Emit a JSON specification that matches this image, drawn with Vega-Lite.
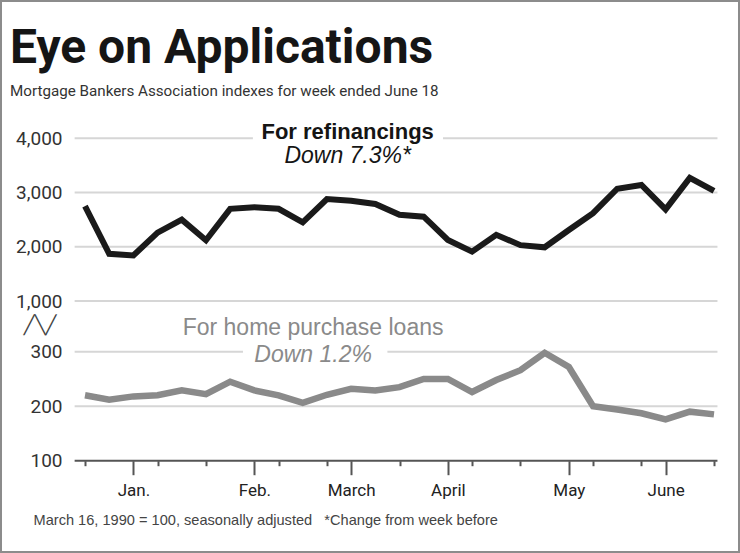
{
  "$schema": "https://vega.github.io/schema/vega-lite/v6.json",
  "width": 740,
  "height": 553,
  "autosize": {"type": "none"},
  "padding": 0,
  "background": "white",
  "config": {
    "view": {"stroke": "#8c8c8c", "strokeWidth": 4},
    "font": "Roboto",
    "axis": {"labelOverlap": false, "labelFlush": false, "labelBound": false}
  },
  "title": {
    "text": "Eye on Applications",
    "subtitle": "Mortgage Bankers Association indexes for week ended June 18",
    "anchor": "start",
    "frame": "group",
    "font": "Roboto",
    "fontSize": 48,
    "fontWeight": "bold",
    "color": "#151515",
    "subtitleFont": "Roboto",
    "subtitleFontSize": 15.2,
    "subtitleColor": "#333333",
    "subtitlePadding": 11,
    "offset": -99,
    "dx": 10
  },
  "datasets": {
    "mba": [
      {"week": "1992-12-18", "refinancing": 2750, "purchase": 220},
      {"week": "1992-12-25", "refinancing": 1870, "purchase": 212},
      {"week": "1993-01-01", "refinancing": 1840, "purchase": 218},
      {"week": "1993-01-08", "refinancing": 2260, "purchase": 220},
      {"week": "1993-01-15", "refinancing": 2500, "purchase": 229},
      {"week": "1993-01-22", "refinancing": 2120, "purchase": 222},
      {"week": "1993-01-29", "refinancing": 2700, "purchase": 245},
      {"week": "1993-02-05", "refinancing": 2730, "purchase": 229},
      {"week": "1993-02-12", "refinancing": 2700, "purchase": 220},
      {"week": "1993-02-19", "refinancing": 2450, "purchase": 206},
      {"week": "1993-02-26", "refinancing": 2880, "purchase": 221},
      {"week": "1993-03-05", "refinancing": 2850, "purchase": 232},
      {"week": "1993-03-12", "refinancing": 2790, "purchase": 229},
      {"week": "1993-03-19", "refinancing": 2590, "purchase": 235},
      {"week": "1993-03-26", "refinancing": 2555, "purchase": 250},
      {"week": "1993-04-02", "refinancing": 2125, "purchase": 250},
      {"week": "1993-04-09", "refinancing": 1910, "purchase": 226},
      {"week": "1993-04-16", "refinancing": 2220, "purchase": 248},
      {"week": "1993-04-23", "refinancing": 2030, "purchase": 266},
      {"week": "1993-04-30", "refinancing": 1990, "purchase": 298},
      {"week": "1993-05-07", "refinancing": 2310, "purchase": 272},
      {"week": "1993-05-14", "refinancing": 2620, "purchase": 200},
      {"week": "1993-05-21", "refinancing": 3070, "purchase": 194},
      {"week": "1993-05-28", "refinancing": 3140, "purchase": 187},
      {"week": "1993-06-04", "refinancing": 2690, "purchase": 176},
      {"week": "1993-06-11", "refinancing": 3270, "purchase": 190},
      {"week": "1993-06-18", "refinancing": 3030, "purchase": 185}
    ]
  },
  "data": {"name": "mba"},
  "layer": [
    {
      "layer": [
        {
          "data": {"values": [{"grid": 1000}, {"grid": 2000}, {"grid": 3000}]},
          "mark": {"type": "rule", "color": "#d6d6d6", "strokeWidth": 2},
          "encoding": {
            "x": {"datum": {"year": 1992, "month": 12, "date": 15, "utc": true}, "type": "temporal"},
            "x2": {"datum": {"year": 1993, "month": 6, "date": 19, "utc": true}},
            "y": {"field": "grid", "type": "quantitative"}
          }
        },
        {
          "data": {"values": [{}]},
          "mark": {"type": "rule", "color": "#d6d6d6", "strokeWidth": 2},
          "encoding": {
            "x": {"datum": {"year": 1992, "month": 12, "date": 15, "utc": true}, "type": "temporal"},
            "x2": {"datum": {"year": 1993, "month": 2, "date": 4, "hours": 14, "utc": true}},
            "y": {"datum": 4000, "type": "quantitative"}
          }
        },
        {
          "data": {"values": [{}]},
          "mark": {"type": "rule", "color": "#d6d6d6", "strokeWidth": 2},
          "encoding": {
            "x": {"datum": {"year": 1993, "month": 3, "date": 31, "hours": 14, "utc": true}, "type": "temporal"},
            "x2": {"datum": {"year": 1993, "month": 6, "date": 19, "utc": true}},
            "y": {"datum": 4000, "type": "quantitative"}
          }
        },
        {
          "mark": {"type": "line", "color": "#1a1a1a", "strokeWidth": 6, "strokeJoin": "miter"},
          "encoding": {
            "x": {
              "field": "week",
              "type": "temporal",
              "scale": {
                "type": "utc",
                "domain": [
                  {"year": 1992, "month": 12, "date": 18, "utc": true},
                  {"year": 1993, "month": 6, "date": 18, "utc": true}
                ],
                "range": [85, 714]
              },
              "axis": {
                "orient": "bottom",
                "offset": -92.3,
                "values": [
                  {"year": 1993, "month": 1, "date": 1, "utc": true},
                  {"year": 1993, "month": 2, "date": 5, "utc": true},
                  {"year": 1993, "month": 3, "date": 5, "utc": true},
                  {"year": 1993, "month": 4, "date": 2, "utc": true},
                  {"year": 1993, "month": 5, "date": 7, "utc": true},
                  {"year": 1993, "month": 6, "date": 4, "utc": true}
                ],
                "format": "%B",
                "labelExpr": "datum.label == 'January' ? 'Jan.' : datum.label == 'February' ? 'Feb.' : datum.label",
                "domain": false,
                "grid": false,
                "tickColor": "#555555",
                "tickWidth": 2,
                "tickSize": 14,
                "labelFont": "Roboto",
                "labelFontSize": 17,
                "labelColor": "#222222",
                "labelPadding": 8,
                "labelOverlap": false,
                "labelFlush": false,
                "labelBound": false,
                "title": "March 16, 1990 = 100, seasonally adjusted\u00a0\u00a0\u00a0*Change from week before",
                "titleFont": "Liberation Sans",
                "titleFontSize": 14.6,
                "titleFontWeight": "normal",
                "titleColor": "#444444",
                "titleAnchor": "start",
                "titleAlign": "left",
                "titleBaseline": "middle",
                "titleX": 33,
                "titleY": 60
              }
            },
            "y": {
              "field": "refinancing",
              "type": "quantitative",
              "scale": {"domain": [1000, 4000], "range": [301, 138.3], "zero": false, "nice": false},
              "axis": {
                "orient": "left",
                "offset": -77,
                "values": [1000, 2000, 3000, 4000],
                "format": ",.0f",
                "grid": false,
                "domain": false,
                "ticks": false,
                "tickSize": 0,
                "labelPadding": 15,
                "labelFont": "Roboto",
                "labelFontSize": 19,
                "labelColor": "#333333",
                "title": null
              }
            }
          }
        },
        {
          "data": {"values": [{}]},
          "mark": {"type": "text", "text": "For refinancings", "font": "Liberation Sans", "fontSize": 22, "fontWeight": "bold", "color": "#151515", "align": "center", "baseline": "alphabetic"},
          "encoding": {
            "x": {"datum": {"year": 1993, "month": 3, "date": 4, "utc": true}, "type": "temporal"},
            "y": {"datum": 3987, "type": "quantitative"}
          }
        },
        {
          "data": {"values": [{}]},
          "mark": {"type": "text", "text": "Down 7.3%*", "font": "Liberation Sans", "fontSize": 23, "fontStyle": "italic", "color": "#151515", "align": "center", "baseline": "alphabetic"},
          "encoding": {
            "x": {"datum": {"year": 1993, "month": 3, "date": 4, "utc": true}, "type": "temporal"},
            "y": {"datum": 3545, "type": "quantitative"}
          }
        },
        {
          "data": {"values": [{}]},
          "mark": {"type": "text", "text": "╱╲╱", "font": "DejaVu Sans", "fontSize": 18, "color": "#444444", "align": "center", "baseline": "middle"},
          "encoding": {
            "x": {"datum": {"year": 1992, "month": 12, "date": 5, "utc": true}, "type": "temporal"},
            "y": {"datum": 539, "type": "quantitative"}
          }
        }
      ]
    },
    {
      "layer": [
        {
          "data": {"values": [{"grid": 200}]},
          "mark": {"type": "rule", "color": "#d6d6d6", "strokeWidth": 2},
          "encoding": {
            "x": {"datum": {"year": 1992, "month": 12, "date": 15, "utc": true}, "type": "temporal"},
            "x2": {"datum": {"year": 1993, "month": 6, "date": 19, "utc": true}},
            "y": {"field": "grid", "type": "quantitative"}
          }
        },
        {
          "data": {"values": [{}]},
          "mark": {"type": "rule", "color": "#d6d6d6", "strokeWidth": 2},
          "encoding": {
            "x": {"datum": {"year": 1992, "month": 12, "date": 15, "utc": true}, "type": "temporal"},
            "x2": {"datum": {"year": 1993, "month": 2, "date": 1, "hours": 17, "utc": true}},
            "y": {"datum": 300, "type": "quantitative"}
          }
        },
        {
          "data": {"values": [{}]},
          "mark": {"type": "rule", "color": "#d6d6d6", "strokeWidth": 2},
          "encoding": {
            "x": {"datum": {"year": 1993, "month": 3, "date": 15, "hours": 12, "utc": true}, "type": "temporal"},
            "x2": {"datum": {"year": 1993, "month": 6, "date": 19, "utc": true}},
            "y": {"datum": 300, "type": "quantitative"}
          }
        },
        {
          "data": {"values": [{}]},
          "mark": {"type": "rule", "color": "#555555", "strokeWidth": 2},
          "encoding": {
            "x": {"datum": {"year": 1992, "month": 12, "date": 15, "utc": true}, "type": "temporal"},
            "x2": {"datum": {"year": 1993, "month": 6, "date": 19, "utc": true}},
            "y": {"datum": 100, "type": "quantitative"}
          }
        },
        {
          "mark": {"type": "line", "color": "#8a8a8a", "strokeWidth": 6.5, "strokeJoin": "miter"},
          "encoding": {
            "x": {
              "field": "week",
              "type": "temporal",
              "axis": {
                "orient": "bottom",
                "offset": -92.3,
                "values": [
                  {"year": 1992, "month": 12, "date": 18, "utc": true},
                  {"year": 1992, "month": 12, "date": 25, "utc": true},
                  {"year": 1993, "month": 1, "date": 8, "utc": true},
                  {"year": 1993, "month": 1, "date": 15, "utc": true},
                  {"year": 1993, "month": 1, "date": 22, "utc": true},
                  {"year": 1993, "month": 1, "date": 29, "utc": true},
                  {"year": 1993, "month": 2, "date": 12, "utc": true},
                  {"year": 1993, "month": 2, "date": 19, "utc": true},
                  {"year": 1993, "month": 2, "date": 26, "utc": true},
                  {"year": 1993, "month": 3, "date": 12, "utc": true},
                  {"year": 1993, "month": 3, "date": 19, "utc": true},
                  {"year": 1993, "month": 3, "date": 26, "utc": true},
                  {"year": 1993, "month": 4, "date": 9, "utc": true},
                  {"year": 1993, "month": 4, "date": 16, "utc": true},
                  {"year": 1993, "month": 4, "date": 23, "utc": true},
                  {"year": 1993, "month": 4, "date": 30, "utc": true},
                  {"year": 1993, "month": 5, "date": 14, "utc": true},
                  {"year": 1993, "month": 5, "date": 21, "utc": true},
                  {"year": 1993, "month": 5, "date": 28, "utc": true},
                  {"year": 1993, "month": 6, "date": 11, "utc": true},
                  {"year": 1993, "month": 6, "date": 18, "utc": true}
                ],
                "labels": false,
                "domain": false,
                "grid": false,
                "tickColor": "#555555",
                "tickWidth": 2,
                "tickSize": 5,
                "title": null
              }
            },
            "y": {
              "field": "purchase",
              "type": "quantitative",
              "scale": {"domain": [100, 300], "range": [460.7, 351.7], "zero": false, "nice": false},
              "axis": {
                "orient": "left",
                "offset": -77,
                "values": [100, 200, 300],
                "grid": false,
                "domain": false,
                "ticks": false,
                "tickSize": 0,
                "labelPadding": 15,
                "labelFont": "Roboto",
                "labelFontSize": 19,
                "labelColor": "#333333",
                "title": null
              }
            }
          }
        },
        {
          "data": {"values": [{}]},
          "mark": {"type": "text", "text": "For home purchase loans", "font": "Liberation Sans", "fontSize": 23, "color": "#8a8a8a", "align": "center", "baseline": "alphabetic"},
          "encoding": {
            "x": {"datum": {"year": 1993, "month": 2, "date": 22, "utc": true}, "type": "temporal"},
            "y": {"datum": 330.6, "type": "quantitative"}
          }
        },
        {
          "data": {"values": [{}]},
          "mark": {"type": "text", "text": "Down 1.2%", "font": "Liberation Sans", "fontSize": 23, "fontStyle": "italic", "color": "#8a8a8a", "align": "center", "baseline": "alphabetic"},
          "encoding": {
            "x": {"datum": {"year": 1993, "month": 2, "date": 22, "utc": true}, "type": "temporal"},
            "y": {"datum": 282.0, "type": "quantitative"}
          }
        }
      ]
    }
  ],
  "resolve": {"scale": {"y": "independent"}, "axis": {"y": "independent", "x": "independent"}}
}
